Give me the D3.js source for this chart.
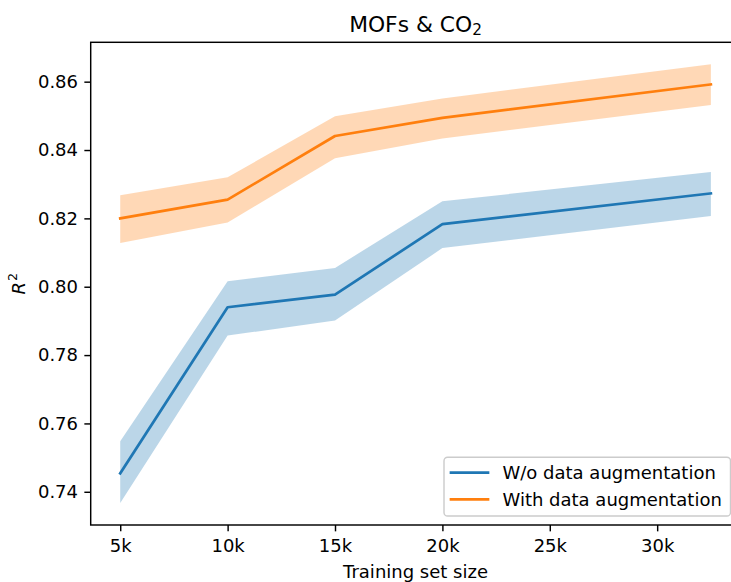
<!DOCTYPE html>
<html>
<head>
<meta charset="utf-8">
<script src="https://cdn.jsdelivr.net/npm/d3@7"></script>
<style>
  html, body { margin: 0; padding: 0; background: #fff; }
  svg { display: block; font-family: "DejaVu Sans", sans-serif; }
</style>
</head>
<body>
<svg id="chart" width="731" height="582"></svg>
<script>
// ---- data ----
const trainSizes = [5000, 10000, 15000, 20000, 32500];
const woMean  = [0.7454, 0.7940, 0.7977, 0.8183, 0.8273];
const woLow   = [0.7367, 0.7857, 0.7901, 0.8113, 0.8207];
const woHigh  = [0.7548, 0.8016, 0.8055, 0.8250, 0.8336];
const withMean = [0.8200, 0.8255, 0.8441, 0.8494, 0.8592];
const withLow  = [0.8128, 0.8188, 0.8376, 0.8434, 0.8532];
const withHigh = [0.8268, 0.8320, 0.8499, 0.8551, 0.8651];
const xTicks = [5000, 10000, 15000, 20000, 25000, 30000];
const yTicks = [0.74, 0.76, 0.78, 0.80, 0.82, 0.84, 0.86];
const seriesNames = ["W/o data augmentation", "With data augmentation"];
const seriesColors = ["#1f77b4", "#ff7f0e"];

// ---- layout ----
const svg = d3.select("#chart");
const L = 90.7, R = 740.4, T = 42.3, B = 525;
const fs = 18;

const xMin = d3.min(trainSizes), xMax = d3.max(trainSizes);
const xPad = (xMax - xMin) * 0.05;
const x = d3.scaleLinear().domain([xMin - xPad, xMax + xPad]).range([L, R]);
const allY = woLow.concat(woHigh, withLow, withHigh);
const yMin = d3.min(allY), yMax = d3.max(allY);
const yPad = (yMax - yMin) * 0.05;
const y = d3.scaleLinear().domain([yMin - yPad, yMax + yPad]).range([B, T]);

const series = [
  {name: seriesNames[0], color: seriesColors[0], mean: woMean, low: woLow, high: woHigh},
  {name: seriesNames[1], color: seriesColors[1], mean: withMean, low: withLow, high: withHigh}
];

const plot = svg.append("g");
series.forEach(s => {
  const pts = trainSizes.map((t, i) => ({t, m: s.mean[i], lo: s.low[i], hi: s.high[i]}));
  plot.append("path")
    .attr("d", d3.area().x(d => x(d.t)).y0(d => y(d.lo)).y1(d => y(d.hi))(pts))
    .attr("fill", s.color).attr("fill-opacity", 0.3).attr("stroke", "none");
});
series.forEach(s => {
  const pts = trainSizes.map((t, i) => ({t, m: s.mean[i]}));
  plot.append("path")
    .attr("d", d3.line().x(d => x(d.t)).y(d => y(d.m))(pts))
    .attr("fill", "none").attr("stroke", s.color).attr("stroke-width", 2.7)
    .attr("stroke-linecap", "square").attr("stroke-linejoin", "round");
});

// ---- axes ----
const xAxis = svg.append("g").attr("transform", `translate(0,${B})`)
  .call(d3.axisBottom(x).tickValues(xTicks).tickFormat(d => (d / 1000) + "k")
        .tickSize(6.35).tickPadding(7.85));
const yAxis = svg.append("g").attr("transform", `translate(${L},0)`)
  .call(d3.axisLeft(y).tickValues(yTicks).tickFormat(d3.format(".2f"))
        .tickSize(6.35).tickPadding(6.35));
[xAxis, yAxis].forEach(a => {
  a.select(".domain").remove();
  a.selectAll(".tick line").attr("stroke", "#000").attr("stroke-width", 1.45);
  a.selectAll(".tick text").attr("fill", "#000").style("font-size", fs + "px")
    .style("font-family", "DejaVu Sans");
});

// spines
const sp = svg.append("g").attr("stroke", "#000").attr("stroke-width", 1.45).attr("fill", "none");
sp.append("rect").attr("x", L).attr("y", T).attr("width", R - L).attr("height", B - T)
  .attr("stroke-linejoin", "miter");

// ---- title ----
const title = svg.append("text").attr("x", (L + R) / 2).attr("y", 31.5)
  .attr("text-anchor", "middle").style("font-size", "21.8px").attr("fill", "#000");
title.append("tspan").text("MOFs & CO");
title.append("tspan").text("2").style("font-size", "15.3px").attr("dy", 3.5);

// ---- axis labels ----
svg.append("text").attr("x", (L + R) / 2).attr("y", 578).attr("text-anchor", "middle")
  .style("font-size", fs + "px").attr("fill", "#000").text("Training set size");

const yl = svg.append("text").attr("transform", `translate(25,${(T + B) / 2}) rotate(-90)`)
  .attr("text-anchor", "middle").style("font-size", fs + "px").attr("fill", "#000");
yl.append("tspan").text("R").style("font-style", "oblique");
yl.append("tspan").text("2").style("font-size", "12.6px").attr("dy", -8).attr("dx", 1);

// ---- legend ----
const lg = svg.append("g");
lg.append("rect").attr("x", 444).attr("y", 457.3).attr("width", 731 - 9 + 9 - 444 - 0.5 - 0).attr("height", 58.7)
  .attr("rx", 3.6).attr("fill", "#fff").attr("fill-opacity", 0.8)
  .attr("stroke", "#cccccc").attr("stroke-width", 1.45);
const rowY = [472.7, 499.3];
series.forEach((s, i) => {
  lg.append("line").attr("x1", 451).attr("x2", 488).attr("y1", rowY[i]).attr("y2", rowY[i])
    .attr("stroke", s.color).attr("stroke-width", 2.7).attr("stroke-linecap", "square");
  lg.append("text").attr("x", 502.5).attr("y", rowY[i] + 6.6)
    .style("font-size", fs + "px").attr("fill", "#000").text(s.name);
});
</script>
</body>
</html>
